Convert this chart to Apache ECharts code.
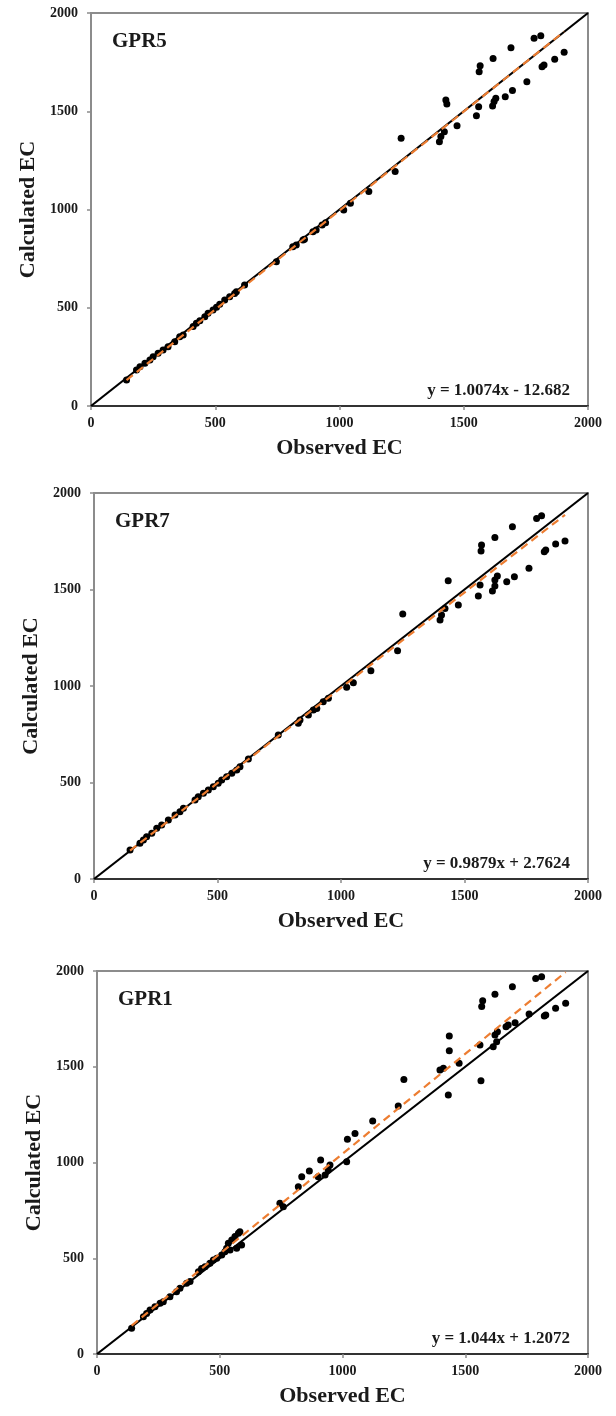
<!DOCTYPE html>
<html><head><meta charset="utf-8">
<script src="https://cdn.jsdelivr.net/npm/echarts@6/dist/echarts.min.js"></script>
<style>html,body{margin:0;padding:0;background:#fff}#c{width:616px;height:1416px}</style>
</head><body><div id="c"></div>
<script>
// ---------- data ----------
const tickValues = [0, 500, 1000, 1500, 2000];
const panelNames = ['GPR5', 'GPR7', 'GPR1'];
const equations = ['y = 1.0074x - 12.682', 'y = 0.9879x + 2.7624', 'y = 1.044x + 1.2072'];
const slopes = [1.0074, 0.9879, 1.044];
const intercepts = [-12.682, 2.7624, 1.2072];

const gpr5Obs = [143,183,197,217,237,250,270,290,310,337,357,371,411,424,438,458,471,491,505,518,538,558,578,585,618,
  746,812,826,853,859,893,906,930,944,1017,1044,1118,1224,1248,
  1402,1408,1422,1428,1432,1473,1551,1560,1562,1566,1616,1618,1622,1629,1667,1690,1696,1754,1783,1810,1815,1823,1866,1904];
const gpr5Calc = [132,183,200,217,234,251,268,285,302,327,353,361,404,421,434,454,472,489,502,518,539,556,573,582,616,
  734,811,819,845,848,887,896,921,933,997,1032,1091,1193,1362,
  1345,1371,1396,1557,1537,1426,1477,1523,1701,1732,1527,1769,1549,1566,1574,1823,1605,1650,1871,1884,1727,1735,1764,1800];

const gpr7Obs = [146,186,200,213,234,254,274,301,328,348,362,409,422,443,463,483,503,517,537,558,578,591,625,
  746,827,834,868,888,902,928,949,1023,1050,1121,1229,1250,
  1401,1407,1421,1434,1475,1556,1563,1567,1569,1613,1623,1623,1623,1633,1671,1694,1702,1761,1792,1812,1823,1829,1869,1907];
const gpr7Calc = [150,185,202,219,237,263,280,306,332,349,366,409,426,444,461,478,496,513,530,548,565,582,622,
  746,807,824,850,876,884,919,936,993,1017,1079,1183,1373,
  1342,1368,1402,1545,1420,1466,1523,1699,1730,1492,1518,1549,1770,1570,1540,1825,1566,1610,1868,1882,1696,1705,1736,1751];

const gpr1Obs = [141,189,202,216,236,257,270,297,324,338,365,379,413,426,440,460,474,488,508,521,528,535,542,549,562,569,576,582,589,
  745,759,820,834,865,901,911,929,942,949,1017,1020,1051,1123,1227,1250,
  1397,1411,1431,1435,1435,1475,1560,1564,1567,1571,1614,1621,1621,1628,1631,1666,1675,1692,1703,1760,1787,1811,1822,1828,1868,1909];
const gpr1Calc = [134,195,212,230,247,265,273,299,325,343,369,378,430,447,456,474,491,500,517,534,552,578,543,595,613,552,630,639,569,
  787,769,874,926,956,926,1013,935,961,987,1004,1121,1152,1217,1295,1434,
  1483,1492,1352,1584,1661,1518,1614,1427,1814,1845,1605,1666,1878,1631,1683,1709,1718,1918,1730,1775,1961,1970,1765,1770,1805,1831];

const observed = [gpr5Obs, gpr7Obs, gpr1Obs];
const calculated = [gpr5Calc, gpr7Calc, gpr1Calc];

// ---------- layout ----------
const grids = [
  {left: 91, top: 13, width: 497, height: 393},
  {left: 94, top: 493, width: 494, height: 386},
  {left: 97, top: 971, width: 491, height: 383}
];
const FONT = '"Liberation Serif", "Times New Roman", serif';
const axisMin = tickValues[0], axisMax = tickValues[tickValues.length - 1];
const step = tickValues[1] - tickValues[0];

const xAxes = [], yAxes = [], series = [], titles = [];
grids.forEach((g, i) => {
  const label = {fontFamily: FONT, fontWeight: 'bold', fontSize: 14, color: '#1a1a1a', formatter: v => String(v)};
  const common = {
    gridIndex: i, type: 'value', min: axisMin, max: axisMax, interval: step,
    splitLine: {show: false},
    axisLine: {show: true, onZero: false, lineStyle: {color: '#8c8c8c', width: 2}},
    axisTick: {show: true, length: 4, lineStyle: {color: '#8c8c8c', width: 1.5}},
    nameLocation: 'middle',
    nameTextStyle: {fontFamily: FONT, fontWeight: 'bold', fontSize: 22, color: '#1a1a1a'}
  };
  xAxes.push(Object.assign({}, common, {name: 'Observed EC', nameGap: 31, axisLabel: Object.assign({}, label, {margin: 10})}));
  yAxes.push(Object.assign({}, common, {name: 'Calculated EC', nameGap: 52, axisLabel: Object.assign({}, label, {margin: 13})}));

  const obs = observed[i], calc = calculated[i];
  series.push({
    type: 'scatter', xAxisIndex: i, yAxisIndex: i, symbol: 'circle', symbolSize: 7,
    itemStyle: {color: '#000', opacity: 1}, z: 3,
    data: obs.map((x, j) => [x, calc[j]])
  });
  series.push({
    type: 'line', xAxisIndex: i, yAxisIndex: i, symbol: 'none', z: 4, silent: true,
    lineStyle: {color: '#000', width: 2.2},
    data: [[axisMin, axisMin], [axisMax, axisMax]]
  });
  const xmin = Math.min(...obs), xmax = Math.max(...obs);
  series.push({
    type: 'line', xAxisIndex: i, yAxisIndex: i, symbol: 'none', z: 5, silent: true,
    lineStyle: {color: '#ED7D31', width: 2.2, type: [8, 5]},
    data: [[xmin, slopes[i] * xmin + intercepts[i]], [xmax, slopes[i] * xmax + intercepts[i]]]
  });
  titles.push({
    text: panelNames[i], left: g.left + 16, top: g.top + 13,
    textStyle: {fontFamily: FONT, fontWeight: 'bold', fontSize: 21, color: '#1a1a1a'}
  });
  titles.push({
    text: equations[i], right: 616 - (g.left + g.width) + 13, top: g.top + g.height - 29,
    textStyle: {fontFamily: FONT, fontWeight: 'bold', fontSize: 17, color: '#1a1a1a'}
  });
});
// dark top border line per panel
grids.forEach((g, i) => {
  xAxes.push({
    gridIndex: i, type: 'value', position: 'top', min: axisMin, max: axisMax,
    axisLine: {show: true, lineStyle: {color: '#333', width: 2}},
    axisTick: {show: false}, axisLabel: {show: false}, splitLine: {show: false}
  });
});

const chart = echarts.init(document.getElementById('c'), null, {renderer: 'canvas'});
chart.setOption({
  animation: false,
  backgroundColor: '#fff',
  title: titles,
  grid: grids.map(g => Object.assign({show: true, borderColor: '#8c8c8c', borderWidth: 2, backgroundColor: 'transparent'}, g)),
  xAxis: xAxes,
  yAxis: yAxes,
  series: series
});
</script></body></html>
